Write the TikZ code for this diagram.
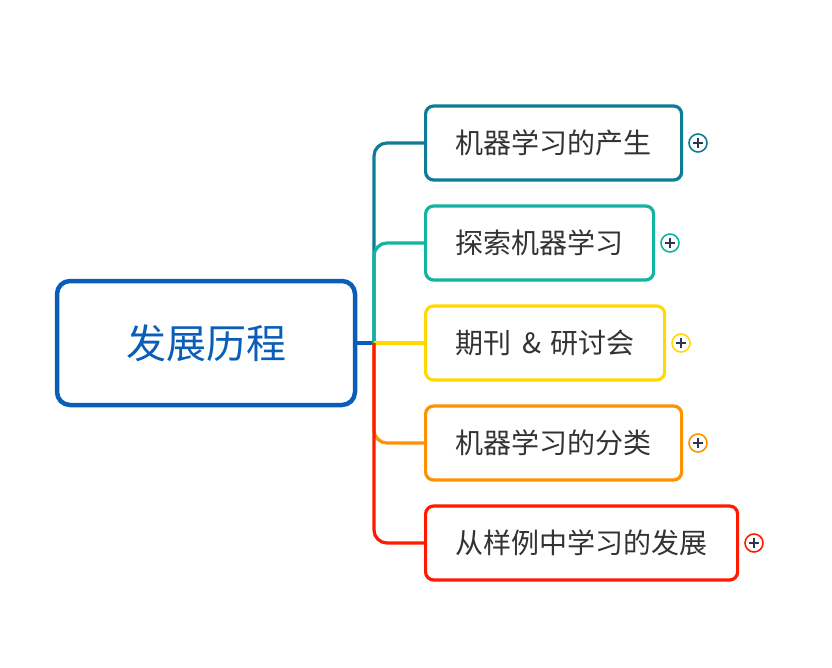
\documentclass[tikz,border=0pt]{standalone}
\usepackage{fontspec}
\newfontfamily\cjk{Noto Sans CJK SC}
\usepackage{tikz}
\usetikzlibrary{positioning}
\usepackage{xcolor}
\definecolor{rootblue}{HTML}{0B5EB8}
\definecolor{teala}{HTML}{0E7B97}
\definecolor{tealb}{HTML}{12B3A1}
\definecolor{sunyel}{HTML}{FFD900}
\definecolor{deeporg}{HTML}{FF9100}
\definecolor{brred}{HTML}{FF1A00}
\definecolor{txtgray}{HTML}{333333}
\definecolor{plusdark}{HTML}{2D3550}

\begin{document}
\begin{tikzpicture}[
    x=1pt,y=-1pt,
    rootbox/.style={draw=rootblue,line width=4.5pt,rounded corners=13pt,fill=white,
      minimum width=298pt,minimum height=124pt,inner sep=0pt,
      font=\cjk\fontsize{40}{46}\selectfont,text=rootblue},
    topic/.style={draw=#1,line width=3.2pt,rounded corners=8pt,fill=white,anchor=west,
      minimum height=74pt,inner xsep=30pt,inner ysep=0pt,
      font=\cjk\fontsize{28}{32}\selectfont,text=txtgray},
    branch/.style={draw=#1,line width=3.2pt,rounded corners=13pt},
    fold/.style={circle,draw=#1,line width=1.6pt,fill=white,minimum size=18pt,inner sep=0pt,
      path picture={\draw[plusdark,line width=1.8pt]
        (path picture bounding box.center) +(-5,0) -- +(5,0)
        (path picture bounding box.center) +(0,-5) -- +(0,5);}}
  ]
    \useasboundingbox (0,0) rectangle (832,668);
    \node[rootbox] (root) at (206,343) {发展历程};
    \coordinate (hub) at (374,343);
    \node[topic=teala] (birth) at (424,143) {机器学习的产生};
    \node[topic=tealb] (explore) at (424,243) {探索机器学习};
    \node[topic=sunyel] (journal) at (424,343) {期刊\hspace{11pt}\&\hspace{9pt}研讨会};
    \node[topic=deeporg] (kinds) at (424,443) {机器学习的分类};
    \node[topic=brred] (examples) at (424,543) {从样例中学习的发展};
    % connectors
    \draw[branch=rootblue] (root.east) -- (hub);
    \draw[branch=teala] (hub) |- (birth.west);
    \draw[branch=tealb] (hub) |- (explore.west);
    \draw[branch=sunyel] (hub) -- (journal.west);
    \draw[branch=deeporg] (hub) |- (kinds.west);
    \draw[branch=brred] (hub) |- (examples.west);
    % fold markers
    \node[fold=teala,right=5pt of birth] (birthplus) {};
    \node[fold=tealb,right=5pt of explore] (exploreplus) {};
    \node[fold=sunyel,right=5pt of journal] (journalplus) {};
    \node[fold=deeporg,right=5pt of kinds] (kindsplus) {};
    \node[fold=brred,right=5pt of examples] (examplesplus) {};
  \end{tikzpicture}
\end{document}
